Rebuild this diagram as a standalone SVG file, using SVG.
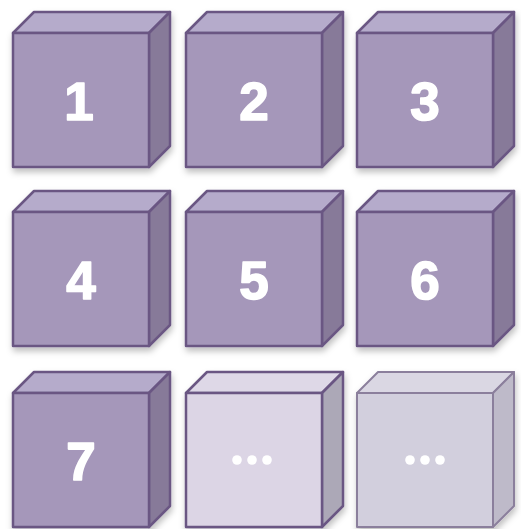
<svg xmlns="http://www.w3.org/2000/svg" width="521" height="529" viewBox="0 0 521 529">
<defs>
<style>
.front{fill:#A597BA;stroke:#6A5783;stroke-width:2.5;stroke-linejoin:round}
.top{fill:#B5ABCB;stroke:#6A5783;stroke-width:2.5;stroke-linejoin:round}
.side{fill:#877A99;stroke:#6A5783;stroke-width:2.5;stroke-linejoin:round}
.l-front{fill:#DCD5E5;stroke:#6A5783;stroke-width:2.5;stroke-linejoin:round}
.l-top{fill:#DED8E7;stroke:#6A5783;stroke-width:2.5;stroke-linejoin:round}
.l-side{fill:#ACA8B7;stroke:#6A5783;stroke-width:2.5;stroke-linejoin:round}
.g-front{fill:#D2CFDD;stroke:#8B7F9C;stroke-width:2;stroke-linejoin:round}
.g-top{fill:#DAD7E3;stroke:#8B7F9C;stroke-width:2;stroke-linejoin:round}
.g-side{fill:#BEBAC9;stroke:#8B7F9C;stroke-width:2;stroke-linejoin:round}
.num{font-family:"Liberation Sans",Arial,sans-serif;font-weight:bold;font-size:53px;fill:#FFFFFF;stroke:#FFFFFF;stroke-width:1.6;stroke-linejoin:round;text-anchor:middle}
.dot{fill:#FFFFFF}
</style>
<filter id="sh" x="-20%" y="-20%" width="150%" height="150%">
<feDropShadow dx="1" dy="4" stdDeviation="3" flood-color="#000" flood-opacity="0.25"/>
</filter>
<g id="cube">
<polygon class="top" points="0,0 21,-21 157,-21 136,0"/>
<polygon class="side" points="136,0 157,-21 157,113 136,134"/>
<rect class="front" x="0" y="0" width="136" height="134"/>
</g>
<g id="cubeL">
<polygon class="l-top" points="0,0 21,-21 157,-21 136,0"/>
<polygon class="l-side" points="136,0 157,-21 157,113 136,134"/>
<rect class="l-front" x="0" y="0" width="136" height="134"/>
</g>
<g id="cubeG">
<polygon class="g-top" points="0,0 21,-21 157,-21 136,0"/>
<polygon class="g-side" points="136,0 157,-21 157,113 136,134"/>
<rect class="g-front" x="0" y="0" width="136" height="134"/>
</g>
</defs>
<rect width="521" height="529" fill="#FFFFFF"/>
<g id="node1" filter="url(#sh)"><use href="#cube" x="13" y="33"/><text class="num" x="79" y="120">1</text></g>
<g id="node2" filter="url(#sh)"><use href="#cube" x="186" y="33"/><text class="num" x="254" y="120">2</text></g>
<g id="node3" filter="url(#sh)"><use href="#cube" x="357" y="33"/><text class="num" x="425" y="120">3</text></g>
<g id="node4" filter="url(#sh)"><use href="#cube" x="13" y="212"/><text class="num" x="81" y="299">4</text></g>
<g id="node5" filter="url(#sh)"><use href="#cube" x="186" y="212"/><text class="num" x="254" y="299">5</text></g>
<g id="node6" filter="url(#sh)"><use href="#cube" x="357" y="212"/><text class="num" x="425" y="299">6</text></g>
<g id="node7" filter="url(#sh)"><use href="#cube" x="13" y="393"/><text class="num" x="81" y="480">7</text></g>
<g id="node8" filter="url(#sh)"><use href="#cubeL" x="186" y="393"/><circle class="dot" cx="237" cy="460" r="4.8"/><circle class="dot" cx="252" cy="460" r="4.8"/><circle class="dot" cx="267" cy="460" r="4.8"/></g>
<g id="node9" filter="url(#sh)"><use href="#cubeG" x="357" y="393"/><circle class="dot" cx="410" cy="460" r="4.8"/><circle class="dot" cx="425" cy="460" r="4.8"/><circle class="dot" cx="440" cy="460" r="4.8"/></g>
<g id="connectors"/>
</svg>
